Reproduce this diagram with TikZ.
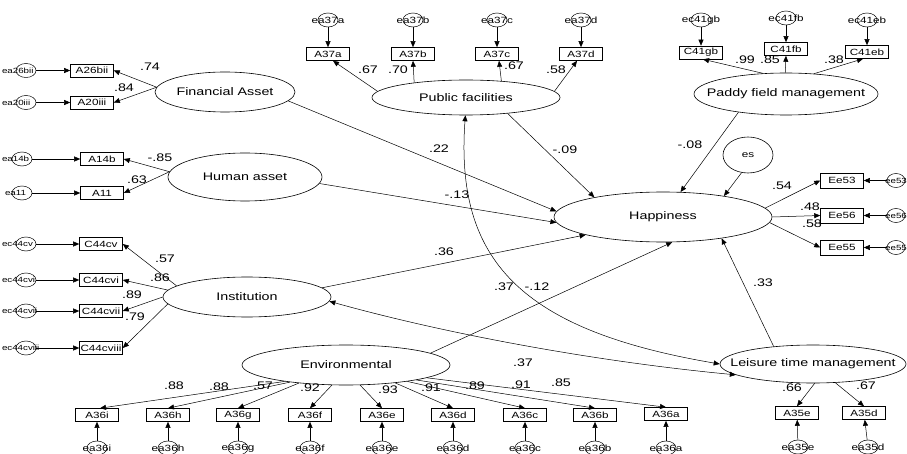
\documentclass[tikz,border=0pt]{standalone}
\usepackage{fontspec}
\setmainfont{Liberation Sans}
\newfontfamily\amos[FakeStretch=1.3]{Liberation Sans}
\usetikzlibrary{shapes.geometric,arrows.meta}
\newcommand\zc[1]{\makebox[0pt]{#1}}
\newcommand\zl[2]{\makebox[0pt][l]{\hspace*{-#1pt}#2}}
\begin{document}
\begin{tikzpicture}[x=1pt,y=-1pt,
  >={Triangle[length=6pt,width=5pt]},
  lat/.style={ellipse,draw,line width=0.6pt,inner sep=0pt,font=\amos\fontsize{11}{13}\selectfont},
  obs/.style={rectangle,draw,line width=0.6pt,inner sep=0pt,minimum width=43pt,minimum height=13pt,font=\amos\fontsize{9}{10}\selectfont},
  err/.style={ellipse,draw,line width=0.5pt,inner sep=0pt,minimum width=20pt,minimum height=14pt,font=\amos\fontsize{9}{10}\selectfont},
  errs/.style={err,font=\amos\fontsize{7.5}{9}\selectfont},
  coef/.style={inner sep=0pt,font=\amos\fontsize{11}{13}\selectfont},
  arr/.style={->,line width=0.5pt},
  darr/.style={<->,line width=0.5pt}]
\useasboundingbox (0,0) rectangle (907,454);
% latent variables
\node[lat,minimum width=140pt,minimum height=40pt] (fa) at (225,92) {\zc{Financial Asset}};
\node[lat,minimum width=154pt,minimum height=48pt] (ha) at (245,177) {\zc{Human asset}};
\node[lat,minimum width=168pt,minimum height=40pt] (inst) at (247,297) {\zc{Institution}};
\node[lat,minimum width=208pt,minimum height=40pt] (env) at (346,365) {\zc{Environmental}};
\node[lat,minimum width=188pt,minimum height=35pt] (pf) at (466,97.5) {\zc{Public facilities}};
\node[lat,minimum width=184pt,minimum height=42pt] (pad) at (786,94) {\zc{Paddy field management}};
\node[lat,minimum width=218pt,minimum height=50pt] (hap) at (663,217) {\zc{Happiness}};
\node[lat,minimum width=186pt,minimum height=38pt] (lei) at (813,364) {\zc{Leisure time management}};
\node[lat,minimum width=50pt,minimum height=36pt,font=\amos\fontsize{9}{10}\selectfont] (es) at (748,155) {\zc{es}};
% observed: left
\node[obs] (a26bii) at (92,70.5) {A26bii};
\node[obs] (a20iii) at (92,102.5) {A20iii};
\node[obs] (a14b) at (102,159) {A14b};
\node[obs] (a11) at (102,193) {A11};
\node[obs] (c44cv) at (101,244) {C44cv};
\node[obs] (c44cvi) at (101,280) {C44cvi};
\node[obs] (c44cvii) at (101,311) {C44cvii};
\node[obs] (c44cviii) at (101,348) {C44cviii};
\node[errs] (ea26bii) at (26,70.5) {\zl{24}{ea26bii}};
\node[errs] (ea20iii) at (26,102.5) {\zl{24}{ea20iii}};
\node[errs] (ea14b) at (22,159) {\zl{20}{ea14b}};
\node[errs] (ea11) at (22,193) {\zl{17}{ea11}};
\node[errs] (ec44cv) at (26,244) {\zl{24}{ec44cv}};
\node[errs] (ec44cvi) at (26,280) {\zl{24}{ec44cvi}};
\node[errs] (ec44cvii) at (26,311) {\zl{24}{ec44cvii}};
\node[errs] (ec44cviii) at (26,348) {\zl{24}{ec44cviii}};
% observed: top
\begin{scope}[every node/.append style={minimum width=40pt,minimum height=12pt}]
\node[obs] (a37a) at (328,54) {A37a};
\node[obs] (a37b) at (413,54) {A37b};
\node[obs] (a37c) at (497,54) {A37c};
\node[obs] (a37d) at (581,54) {A37d};
\node[obs] (c41gb) at (701,52.5) {C41gb};
\node[obs] (c41fb) at (786,49) {C41fb};
\node[obs] (c41eb) at (867,52) {C41eb};
\end{scope}
\node[err] (ea37a) at (328,20) {\zc{ea37a}};
\node[err] (ea37b) at (413,20) {\zc{ea37b}};
\node[err] (ea37c) at (497,20) {\zc{ea37c}};
\node[err] (ea37d) at (581,20) {\zc{ea37d}};
\node[err] (ec41gb) at (701,20) {\zc{ec41gb}};
\node[err] (ec41fb) at (786,18) {\zc{ec41fb}};
\node[err] (ec41eb) at (867,20) {\zc{ec41eb}};
% observed: right
\node[obs,minimum height=15pt] (ee53) at (842,180.5) {Ee53};
\node[obs,minimum height=15pt] (ee56) at (842,215.5) {Ee56};
\node[obs,minimum height=15pt] (ee55) at (842,247.5) {Ee55};
\node[errs,minimum width=18pt] (eee53) at (896,180.5) {\zc{ee53}};
\node[errs,minimum width=18pt] (eee56) at (896,215.5) {\zc{ee56}};
\node[errs,minimum width=18pt] (eee55) at (896,247.5) {\zc{ee55}};
% observed: bottom
\node[obs] (a36i) at (97,415) {A36i};
\node[obs] (a36h) at (168,415) {A36h};
\node[obs] (a36g) at (238,415) {A36g};
\node[obs] (a36f) at (310,415) {A36f};
\node[obs] (a36e) at (382,415) {A36e};
\node[obs] (a36d) at (453,415) {A36d};
\node[obs] (a36c) at (525,415) {A36c};
\node[obs] (a36b) at (595,415) {A36b};
\node[obs] (a36a) at (666,414) {A36a};
\node[obs] (a35e) at (797,413) {A35e};
\node[obs] (a35d) at (864,413) {A35d};
\node[err] (ea36i) at (97,448) {\zc{ea36i}};
\node[err] (ea36h) at (168,448) {\zc{ea36h}};
\node[err] (ea36g) at (238,448) {\zc{ea36g}};
\node[err] (ea36f) at (310,448) {\zc{ea36f}};
\node[err] (ea36e) at (382,448) {\zc{ea36e}};
\node[err] (ea36d) at (453,448) {\zc{ea36d}};
\node[err] (ea36c) at (525,448) {\zc{ea36c}};
\node[err] (ea36b) at (595,448) {\zc{ea36b}};
\node[err] (ea36a) at (666,448) {\zc{ea36a}};
\node[err] (ea35e) at (798,447) {\zc{ea35e}};
\node[err] (ea35d) at (868,447) {\zc{ea35d}};
% error arrows
\foreach \e/\o in {ea26bii/a26bii,ea20iii/a20iii,ea14b/a14b,ea11/a11,ec44cv/c44cv,ec44cvi/c44cvi,ec44cvii/c44cvii,ec44cviii/c44cviii,
  ea37a/a37a,ea37b/a37b,ea37c/a37c,ea37d/a37d,ec41gb/c41gb,ec41fb/c41fb,ec41eb/c41eb,eee53/ee53,eee56/ee56,eee55/ee55,
  ea36i/a36i,ea36h/a36h,ea36g/a36g,ea36f/a36f,ea36e/a36e,ea36d/a36d,ea36c/a36c,ea36b/a36b,ea36a/a36a,ea35e/a35e,ea35d/a35d}
  \draw[arr] (\e) -- (\o);
% loadings
\draw[arr] (fa.176) -- (a26bii.east);
\draw[arr] (fa.176) -- (a20iii.east);
\draw[arr] (ha.176) -- (a14b.east);
\draw[arr] (ha.176) -- (a11.east);
\draw[arr] (inst.171) -- (c44cv.east);
\draw[arr] (inst.175) -- (c44cvi.east);
\draw[arr] (inst.180) -- (c44cvii.east);
\draw[arr] (inst.185) -- (c44cviii.east);
\draw[arr] (pf.176) -- ([xshift=5pt]a37a.south);
\draw[arr] (pf.164.7) -- (a37b.south);
\draw[arr] (pf.25.6) -- ([xshift=2pt]a37c.south);
\draw[arr] (pf.4) -- ([xshift=-4pt]a37d.south);
\draw[arr] (pad.138.6) -- ([xshift=2pt]c41gb.south);
\draw[arr] (pad.92) -- (c41fb.south);
\draw[arr] (pad.36.7) -- ([xshift=-4pt]c41eb.south);
\draw[arr] (hap.5.4) -- (ee53.west);
\draw[arr] (hap.0) -- (ee56.west);
\draw[arr] (hap.-3) -- (ee55.west);
\draw[arr] (env.195.6) -- ([xshift=3pt]a36i.north);
\draw[arr] (env.197) -- (a36h.north);
\draw[arr] (env.201) -- (a36g.north);
\draw[arr] (env.-125) -- (a36f.north);
\draw[arr] (env.-55) -- (a36e.north);
\draw[arr] (env.-20) -- (a36d.north);
\draw[arr] (env.-15.6) -- (a36c.north);
\draw[arr] (env.-12.3) -- (a36b.north);
\draw[arr] (env.-9.3) -- (a36a.north);
\draw[arr] (lei.-85) -- (a35e.north);
\draw[arr] (lei.-40) -- (a35d.north);
% structural paths
\draw[arr] (fa.-8) -- (hap.177.3);
\draw[arr] (ha.-5) -- (hap.183.3);
\draw[arr] (inst.7.7) -- (hap.193.9);
\draw[arr] (pf.-21) -- (hap.164.5);
\draw[arr] (pad.201.6) -- (hap.55.8);
\draw[arr] (es.-110) -- (hap.19);
\draw[arr] (env.8) -- (hap.-70);
\draw[arr] (lei.156.7) -- (hap.-20.2);
\draw[darr] (pf.-92) .. controls (455,260) and (520,330) .. (lei.180);
\draw[darr] (inst.-3.7) .. controls (450,335) and (600,362) .. (lei.188.2);
% coefficients
\node[coef] (k1) at (150,67) {.74};
\node[coef] (k2) at (124,88) {.84};
\node[coef] (k3) at (160,158) {-.85};
\node[coef] (k4) at (137,180) {.63};
\node[coef] (k5) at (165,259) {.57};
\node[coef] (k6) at (160,278) {.86};
\node[coef] (k7) at (132,295) {.89};
\node[coef] (k8) at (135,317) {.79};
\node[coef] (k9) at (368,70) {.67};
\node[coef] (k10) at (398,70) {.70};
\node[coef] (k11) at (514,66) {.67};
\node[coef] (k12) at (556,70) {.58};
\node[coef] (k13) at (745,60) {.99};
\node[coef] (k14) at (770,60) {.85};
\node[coef] (k15) at (834,60) {.38};
\node[coef] (k16) at (439,149) {.22};
\node[coef] (k17) at (565,150) {-.09};
\node[coef] (k18) at (690,145) {-.08};
\node[coef] (k19) at (457,195) {-.13};
\node[coef] (k20) at (444,252) {.36};
\node[coef] (k21) at (504,287) {.37};
\node[coef] (k22) at (537,287) {-.12};
\node[coef] (k23) at (763,283) {.33};
\node[coef] (k24) at (523,363) {.37};
\node[coef] (k25) at (782,186) {.54};
\node[coef] (k26) at (810,207) {.48};
\node[coef] (k27) at (812,224) {.58};
\node[coef] (k28) at (174,386) {.88};
\node[coef] (k29) at (219,387) {.88};
\node[coef] (k30) at (263,386) {.57};
\node[coef] (k31) at (310,388) {.92};
\node[coef] (k32) at (388,390) {.93};
\node[coef] (k33) at (431,388) {.91};
\node[coef] (k34) at (475,386) {.89};
\node[coef] (k35) at (521,385) {.91};
\node[coef] (k36) at (561,383) {.85};
\node[coef] (k37) at (792,388) {.66};
\node[coef] (k38) at (866,386) {.67};
\end{tikzpicture}
\end{document}
